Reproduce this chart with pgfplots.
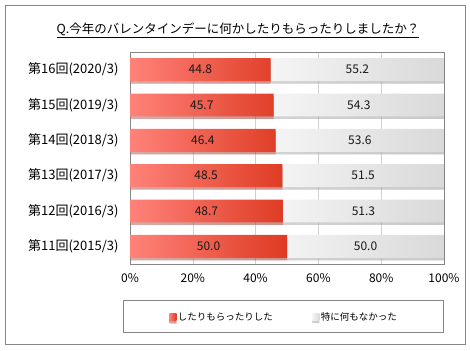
\documentclass[border=0pt]{standalone}
\usepackage{fontspec}
\setmainfont{Noto Sans CJK JP}
\usepackage{pgfplots}
\usepackage{pgfplotstable}
\pgfplotsset{compat=1.18}
\usetikzlibrary{shadows}
\definecolor{redL}{HTML}{FF8279}
\definecolor{redR}{HTML}{DE3A22}
\definecolor{grayL}{HTML}{F5F5F5}
\definecolor{grayR}{HTML}{D9D9D9}
\definecolor{gridgray}{HTML}{D0D0D0}
\definecolor{framegray}{HTML}{868686}
\pgfplotstableread{
y red gray
0 50.0 50.0
1 48.7 51.3
2 48.5 51.5
3 46.4 53.6
4 45.7 54.3
5 44.8 55.2
}\data
\begin{document}
\begin{tikzpicture}[x=1pt,y=1pt]
\useasboundingbox (0,0) rectangle (470,350);
\draw[framegray, line width=1pt] (5.5,5.5) rectangle (465,344.5);
\node[font=\fontsize{12.5}{14}\selectfont, anchor=base, inner sep=0pt] at (238,316) {\underline{Q.今年のバレンタインデーに何かしたりもらったりしましたか？}};
\begin{axis}[
  at={(130pt,86pt)}, anchor=south west,
  width=314pt, height=212pt, scale only axis,
  xbar stacked, bar width=0.65,
  xmin=0, xmax=100, ymin=-0.5, ymax=5.5,
  ytick={0,...,5},
  yticklabels={第11回(2015/3),第12回(2016/3),第13回(2017/3),第14回(2018/3),第15回(2019/3),第16回(2020/3)},
  xtick={0,20,40,60,80,100},
  xticklabels={0\%,20\%,40\%,60\%,80\%,100\%},
  xmajorgrids, grid style={draw=gridgray, line width=0.6pt},
  axis line style={draw=framegray, line width=0.8pt},
  major tick length=0pt,
  tick label style={font=\fontsize{12}{14}\selectfont},
  xticklabel style={yshift=-6pt},
  yticklabel style={xshift=-8pt, font=\fontsize{13}{15}\selectfont},
  legend columns=2,
  legend style={draw=none, fill=none, at={(0.49,-0.25)}, anchor=center,
    font=\fontsize{9.5}{11}\selectfont, /tikz/every even column/.append style={column sep=38pt},
    nodes={inner sep=1.5pt}},
]
\addplot[draw=none, left color=redL, right color=redR,
  drop shadow={shadow xshift=0pt, shadow yshift=-2.5pt, opacity=0.35, fill=black!70},
  legend image code/.code={\fill[color=red!75!orange!90!white] (0pt,-3.5pt) rectangle (7pt,3.5pt);}]
  table[x=red, y=y] {\data};
\addlegendentry{したりもらったりした}
\addplot[draw=none, left color=grayL, right color=grayR,
  drop shadow={shadow xshift=0pt, shadow yshift=-2.5pt, opacity=0.35, fill=black!70},
  legend image code/.code={\fill[color=black!12] (0pt,-3.5pt) rectangle (7pt,3.5pt);}]
  table[x=gray, y=y] {\data};
\addlegendentry{特に何もなかった}
\end{axis}
\begin{axis}[
  at={(130pt,86pt)}, anchor=south west,
  width=314pt, height=212pt, scale only axis,
  xmin=0, xmax=100, ymin=-0.5, ymax=5.5, hide axis,
]
\addplot[only marks, mark=none, nodes near coords, point meta=explicit symbolic,
  every node near coord/.append style={anchor=center, font=\fontsize{12}{14}\selectfont, text=black!90}]
  table[x expr=\thisrow{red}/2, y=y, meta=red] {\data};
\addplot[only marks, mark=none, nodes near coords, point meta=explicit symbolic,
  every node near coord/.append style={anchor=center, font=\fontsize{12}{14}\selectfont, text=black!90}]
  table[x expr=\thisrow{red}+\thisrow{gray}/2, y=y, meta=gray] {\data};
\end{axis}
\draw[framegray, line width=0.8pt] (123,17.5) rectangle (443,49.5);
\end{tikzpicture}
\end{document}
